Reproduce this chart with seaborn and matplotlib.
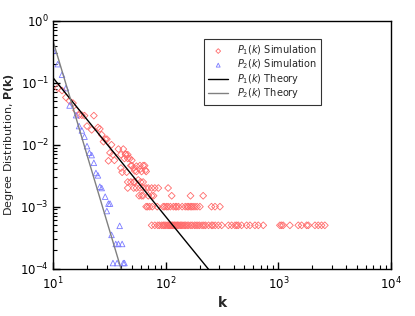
import matplotlib
matplotlib.use("Agg")
import matplotlib.pyplot as plt
import seaborn as sns
import numpy as np

# P1(k) simulation points
p1_sim_k = [11, 12, 13, 14, 15, 16, 17, 18, 19, 20, 22, 23, 25, 26, 27, 28, 29, 30,
            33, 38, 42, 44, 46, 48,
            31, 32, 34, 35, 40, 44, 46, 50, 40, 41, 45, 49, 52, 55, 59, 65, 61, 67,
            43, 50, 55, 63, 53, 59, 66,
            46, 49, 52, 53, 57, 60, 63,
            46, 52, 55, 59, 63, 67, 70, 75, 80, 86, 105,
            58, 61, 63, 70, 75, 78, 113, 166, 215,
            67, 69, 72, 76, 84, 95, 98, 102, 105, 110, 117, 122, 125, 130, 140, 149,
            155, 159, 165, 170, 175, 182, 190, 201, 255, 274, 303,
            75, 80, 85, 88, 92, 95, 97, 100, 103, 106, 108, 110, 113, 115, 118, 120,
            123, 126, 128, 131, 135, 138, 142, 146, 150, 155, 160, 167, 172, 180,
            186, 193, 200, 210, 218, 226, 240, 255, 262, 275, 293, 314, 360, 385,
            412, 427, 441, 472, 523, 560, 620, 664, 735, 1033, 1069, 1105, 1267,
            1503, 1610, 1784, 1846, 2115, 2262, 2420, 2588]
p1_sim_p = [0.082, 0.075, 0.058, 0.051, 0.047, 0.036, 0.030, 0.030, 0.0295, 0.020, 0.0174,
            0.0295, 0.019, 0.018, 0.0145, 0.0112, 0.0123, 0.0123,
            0.0100, 0.0085, 0.0085, 0.0071, 0.0069, 0.0060,
            0.0055, 0.0074, 0.0069, 0.0056, 0.0069, 0.0069, 0.0060, 0.0056, 0.0042,
            0.0036, 0.0036, 0.0046, 0.0042, 0.0037, 0.0046, 0.0046, 0.0037, 0.0037,
            0.0060, 0.0046, 0.0045, 0.0046, 0.0038, 0.0040, 0.0039,
            0.0025, 0.0025, 0.0025, 0.0025, 0.0027, 0.0025, 0.0025,
            0.0020, 0.0020, 0.0020, 0.0020, 0.0020, 0.0020, 0.0020, 0.0020, 0.0020,
            0.0020, 0.0020,
            0.0015, 0.0015, 0.0015, 0.0015, 0.0015, 0.0015, 0.0015, 0.0015, 0.0015,
            0.001, 0.001, 0.001, 0.001, 0.001, 0.001, 0.001, 0.001, 0.001, 0.001,
            0.001, 0.001, 0.001, 0.001, 0.001, 0.001, 0.001, 0.001, 0.001, 0.001,
            0.001, 0.001, 0.001, 0.001, 0.001, 0.001, 0.001,
            0.0005, 0.0005, 0.0005, 0.0005, 0.0005, 0.0005, 0.0005, 0.0005, 0.0005,
            0.0005, 0.0005, 0.0005, 0.0005, 0.0005, 0.0005, 0.0005, 0.0005, 0.0005,
            0.0005, 0.0005, 0.0005, 0.0005, 0.0005, 0.0005, 0.0005, 0.0005, 0.0005,
            0.0005, 0.0005, 0.0005, 0.0005, 0.0005, 0.0005, 0.0005, 0.0005, 0.0005,
            0.0005, 0.0005, 0.0005, 0.0005, 0.0005, 0.0005, 0.0005, 0.0005, 0.0005,
            0.0005, 0.0005, 0.0005, 0.0005, 0.0005, 0.0005, 0.0005, 0.0005, 0.0005,
            0.0005, 0.0005, 0.0005, 0.0005, 0.0005, 0.0005, 0.0005, 0.0005, 0.0005,
            0.0005, 0.0005]

# P2(k) simulation points
p2_sim_k = [10, 11, 12, 13, 14, 16, 17, 18, 19, 20, 21, 22, 23, 24, 25, 26, 27, 29,
            31, 32, 30, 39, 33, 36, 38, 41, 34, 37, 42, 43]
p2_sim_p = [0.33, 0.20, 0.135, 0.082, 0.043, 0.030, 0.020, 0.017, 0.0135, 0.0095,
            0.0074, 0.0068, 0.0051, 0.0035, 0.0032, 0.0021, 0.0020, 0.00145,
            0.00112, 0.00112, 0.00085, 0.00049, 0.00035, 0.00025, 0.00025, 0.00025,
            0.000123, 0.000123, 0.000123, 0.000123]

# theory curves
p1_th_k = [10, 14, 20, 40, 100, 250]
p1_th_p = [0.12, 0.0566, 0.0255, 0.0054, 0.00069, 0.000089]
p2_th_k = [10, 14, 20, 30, 44]
p2_th_p = [0.468, 0.0609, 0.00683, 0.000579, 0.0000566]

sns.set_style("ticks")
plt.rcParams['font.family'] = ['DejaVu Sans']

fig = plt.figure(figsize=(4.15, 3.16), dpi=100)
ax = fig.add_axes([0.128, 0.150, 0.814, 0.784])

sns.scatterplot(x=p1_sim_k, y=p1_sim_p, marker='D', s=12, facecolor='none',
                edgecolor='#ff6a6a', linewidth=0.6, label=r'$P_1(k)$ Simulation', ax=ax)
sns.scatterplot(x=p2_sim_k, y=p2_sim_p, marker='^', s=16, facecolor='none',
                edgecolor='#7a7aff', linewidth=0.6, label=r'$P_2(k)$ Simulation', ax=ax)
sns.lineplot(x=p1_th_k, y=p1_th_p, color='black', lw=1.0,
             label=r'$P_1(k)$ Theory', ax=ax)
sns.lineplot(x=p2_th_k, y=p2_th_p, color='#808080', lw=1.0,
             label=r'$P_2(k)$ Theory', ax=ax)

ax.set_xscale('log')
ax.set_yscale('log')
ax.set_xlim(10, 1e4)
ax.set_ylim(1e-4, 1)

for s in ax.spines.values():
    s.set_color('black')
    s.set_linewidth(1.0)
ax.tick_params(which='both', direction='in', top=False, right=False, colors='black',
               labelsize=8.5, pad=3)
ax.tick_params(axis='x', which='major', pad=5)
ax.tick_params(which='major', length=5, width=1.0)
ax.tick_params(which='minor', length=3, width=0.8)

ax.set_xlabel('k', fontsize=10, fontweight='bold', labelpad=3)
ax.set_ylabel(r'Degree Distribution, $\mathbf{P(k)}$', fontsize=8, labelpad=3)

leg = ax.legend(loc='upper left', bbox_to_anchor=(0.447, 0.925), fontsize=7,
                frameon=True, fancybox=False, edgecolor='black', handlelength=2.0,
                borderpad=0.45, labelspacing=0.05, scatterpoints=1, markerscale=0.7,
                handletextpad=0.9, borderaxespad=0)
leg.get_frame().set_linewidth(0.8)

fig.savefig('out.png', dpi=100)
